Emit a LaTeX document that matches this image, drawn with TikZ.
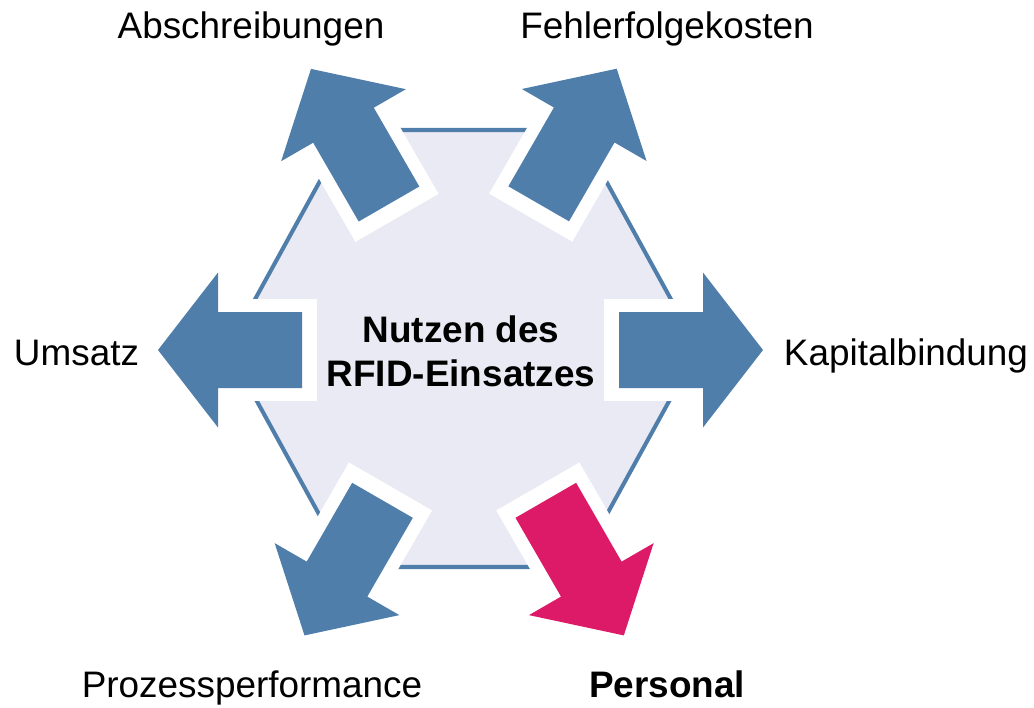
\documentclass[tikz,border=0pt]{standalone}
\usepackage{fontspec}
\setmainfont{Liberation Sans}
\definecolor{pfeilblau}{RGB}{79,126,170}
\definecolor{hexfuell}{RGB}{234,234,244}
\definecolor{personalrot}{RGB}{220,26,104}

\begin{document}
\begin{tikzpicture}[x=0.02cm,y=-0.02cm,
  hexagon/.style={draw=pfeilblau,fill=hexfuell,line width=2.3pt,line join=miter},
  rand/.style={fill=white},
  ziel/.style={anchor=base,font=\fontsize{21}{25}\selectfont},
  kern/.style={align=center,font=\fontsize{21}{25}\selectfont\bfseries}]
  \useasboundingbox (0,0) rectangle (1034,707);

  % Sechseck in der Mitte
  \draw[hexagon] (228,348.5) -- (348,130) -- (578,130) -- (698,348.5)
    -- (578,567) -- (348,567) -- cycle;
  \node[kern] (nutzen) at (461,351.5) {Nutzen des\\RFID-Einsatzes};

  % waagrechte Pfeile
  \foreach \px/\py/\winkel in {619/350/0, 302/350/180}{
    \begin{scope}[shift={(\px,\py)},rotate=\winkel]
      \fill[rand] (-15,-51) rectangle (84,51);
      \fill[pfeilblau] (0,-38) -- (84,-38) -- (84,-77.5) -- (144,0)
        -- (84,77.5) -- (84,38) -- (0,38) -- cycle;
    \end{scope}}
  % schraege Pfeile
  \foreach \px/\py/\winkel/\farbe in {389/204/120/pfeilblau,
      538.7/203.8/60/pfeilblau, 382.5/500.3/240/pfeilblau,
      545.8/500.3/300/personalrot}{
    \begin{scope}[shift={(\px,\py)},rotate=\winkel]
      \fill[rand] (-16,-48) rectangle (91,48);
      \fill[\farbe] (0,-35) -- (91,-35) -- (91,-72) -- (156,0)
        -- (91,72) -- (91,35) -- (0,35) -- cycle;
    \end{scope}}

  % Beschriftungen
  \node[ziel] (abschreibungen) at (251,38) {Abschreibungen};
  \node[ziel] (fehlerfolge) at (667,38) {Fehlerfolgekosten};
  \node[ziel] (umsatz) at (76.5,365) {Umsatz};
  \node[ziel] (kapital) at (906,365) {Kapitalbindung};
  \node[ziel] (prozess) at (252,697) {Prozessperformance};
  \node[ziel] (personal) at (667,697) {\bfseries Personal};
\end{tikzpicture}
\end{document}
